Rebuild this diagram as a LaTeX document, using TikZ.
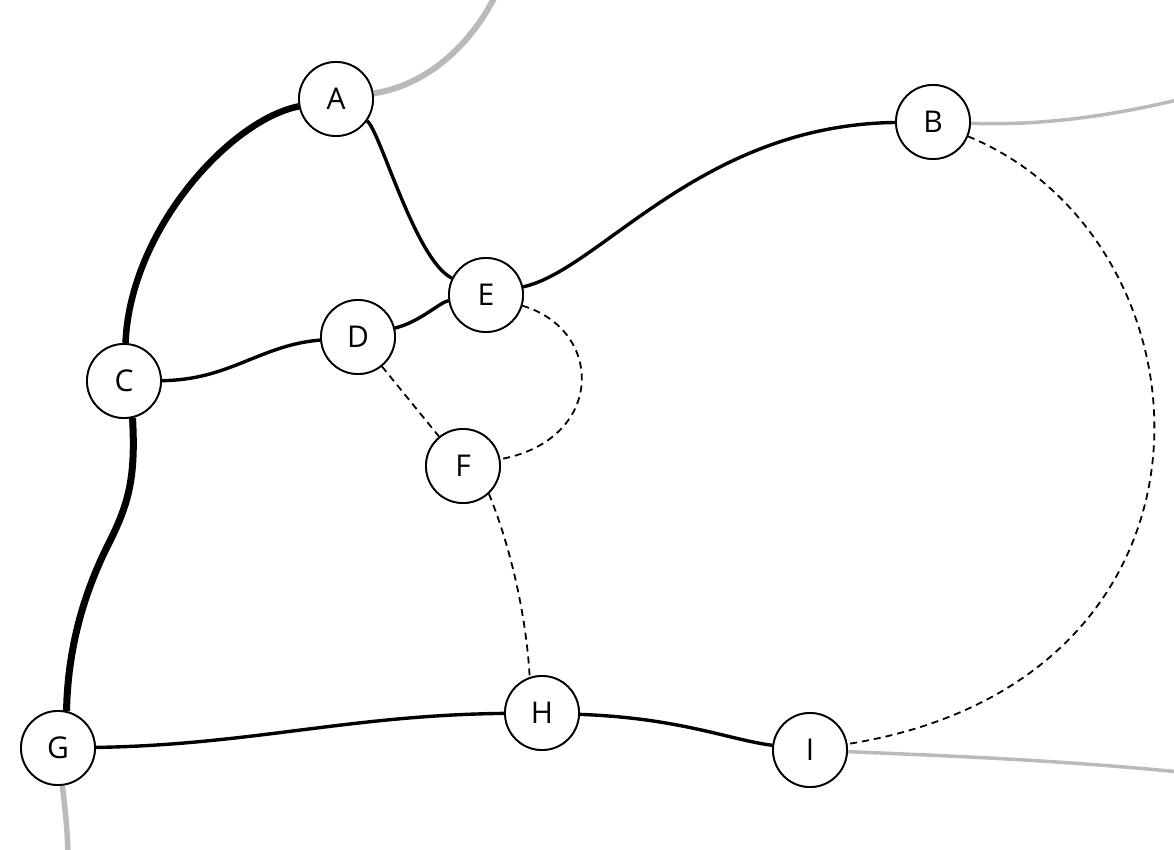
\documentclass[tikz,border=0pt]{standalone}
\usepackage{fontspec}
\setmainfont{Open Sans}
\begin{document}
\begin{tikzpicture}[x=1pt,y=-1pt,
  vert/.style={circle,draw=black,line width=1.8pt,fill=white,minimum size=74pt,inner sep=0pt,font=\fontsize{30}{35}\selectfont},
  edgethick/.style={line width=6.5pt,black},
  edgemid/.style={line width=3.4pt,black},
  edgedash/.style={line width=1.8pt,black,dash pattern=on 7pt off 5pt},
  edgegray/.style={color=black!27,line width=4pt}]
\useasboundingbox (0,0) rectangle (1174,850);
\clip (0,0) rectangle (1174,850);
% free ends of the gray connectors
\coordinate (ta) at (498,-10);
\coordinate (tb) at (1190,97);
\coordinate (ti) at (1190,773);
\coordinate (tg) at (68,860);
% nodes (positions; drawn again on top at the end)
\path (336,99) node[vert] (A) {A}
      (933,122) node[vert] (B) {B}
      (124,381) node[vert] (C) {C}
      (358,337) node[vert] (D) {D}
      (486,295) node[vert] (E) {E}
      (463,466) node[vert] (F) {F}
      (58,748) node[vert] (G) {G}
      (542,713) node[vert] (H) {H}
      (810,750) node[vert] (I) {I};
% gray edges
\draw[edgegray,line width=6pt] (A) .. controls (430,85) and (475,40) .. (ta);
\draw[edgegray,line width=3.5pt] (B) .. controls (1050,126) and (1120,114) .. (tb);
\draw[edgegray,line width=3.5pt] (I) .. controls (950,756) and (1060,760) .. (ti);
\draw[edgegray,line width=5.5pt] (G) .. controls (64,800) and (68,830) .. (tg);
% thick edges
\draw[edgethick] (A) .. controls (230,120) and (130,230) .. (C);
\draw[edgethick,line width=7pt] (C.-77) .. controls (136,480) and (128,505) .. (108,545)
   .. controls (88,585) and (68,640) .. (G.77);
% medium edges
\draw[edgemid] (A) .. controls (380,130) and (415,260) .. (E);
\draw[edgemid] (E) .. controls (600,270) and (700,125) .. (B);
\draw[edgemid] (C) .. controls (230,380) and (260,345) .. (D);
\draw[edgemid] (D) .. controls (420,322) and (440,302) .. (E);
\draw[edgemid] (G) .. controls (250,745) and (350,715) .. (H);
\draw[edgemid] (H) .. controls (680,718) and (730,740) .. (I);
% dashed edges
\draw[edgedash] (D) -- (F);
\draw[edgedash] (E) .. controls (605,330) and (605,440) .. (F);
\draw[edgedash] (F.-47) .. controls (508,540) and (526,610) .. (H.109);
\draw[edgedash] (B) .. controls (1220,240) and (1250,680) .. (I);
% nodes on top
\path (336,99) node[vert] {A}
      (933,122) node[vert] {B}
      (124,381) node[vert] {C}
      (358,337) node[vert] {D}
      (486,295) node[vert] {E}
      (463,466) node[vert] {F}
      (58,748) node[vert] {G}
      (542,713) node[vert] {H}
      (810,750) node[vert] {I};
\end{tikzpicture}
\end{document}
